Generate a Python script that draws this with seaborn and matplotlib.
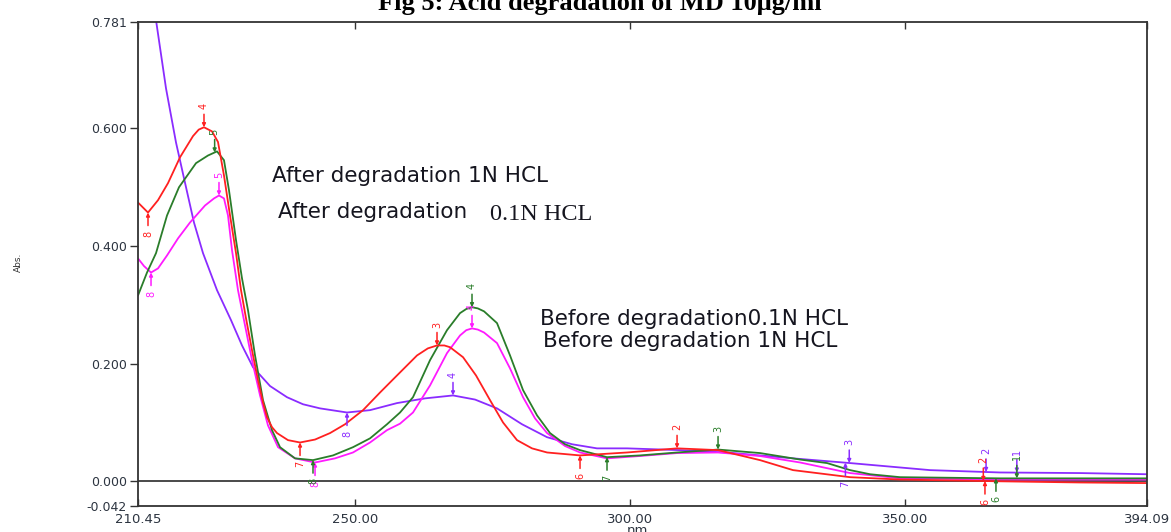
import numpy as np
import pandas as pd
import matplotlib
matplotlib.use("Agg")
import matplotlib.pyplot as plt
import seaborn as sns

# ---------------- data (wavelength nm, absorbance) ----------------
red_nm = [210.45, 212.27, 214.09, 215.91, 218.10, 220.46, 221.5, 222.46, 223.92, 225.01, 226.10,
          227.20, 228.29, 229.20, 230.11, 231.20, 232.29, 233.20, 233.93, 234.84, 235.75,
          237.75, 239.94, 242.67, 245.40, 248.13, 251.41, 254.50, 257.59, 261.23, 263.2, 264.87,
          266.2, 267.24, 269.61, 271.97, 274.52, 276.89, 279.43, 282.16, 284.90, 290.90, 299.46,
          308.56, 316.02, 323.66, 329.67, 340.05, 349.15, 367.35, 381.91, 394.09]
red_abs = [0.474, 0.457, 0.478, 0.507, 0.551, 0.587, 0.598, 0.602, 0.595, 0.577, 0.520,
           0.452, 0.388, 0.325, 0.277, 0.223, 0.172, 0.134, 0.109, 0.092, 0.082,
           0.070, 0.066, 0.071, 0.082, 0.097, 0.121, 0.151, 0.180, 0.214, 0.226, 0.231,
           0.231, 0.228, 0.211, 0.180, 0.138, 0.100, 0.070, 0.056, 0.049, 0.044, 0.049,
           0.056, 0.053, 0.036, 0.019, 0.007, 0.003, 0.000, -0.002, -0.003]

green_nm = [210.45, 212.09, 213.73, 215.73, 217.91, 221.01, 223.19, 224.83, 226.10, 227.01,
            228.29, 229.38, 230.47, 231.75, 233.20, 234.84, 236.30, 239.03, 242.30, 245.94,
            249.58, 252.68, 255.77, 258.14, 260.50, 263.60, 266.69, 269.06, 270.2, 271.24, 272.3,
            273.43, 275.79, 278.16, 280.53, 283.08, 285.44, 288.17, 290.90, 295.81, 301.82,
            308.56, 316.02, 323.66, 330.95, 335.86, 340.05, 343.69, 349.15, 367.35, 394.09]
green_abs = [0.316, 0.355, 0.388, 0.452, 0.500, 0.541, 0.554, 0.561, 0.546, 0.495,
             0.410, 0.345, 0.291, 0.214, 0.138, 0.087, 0.058, 0.039, 0.036, 0.044,
             0.058, 0.073, 0.097, 0.117, 0.143, 0.206, 0.257, 0.286, 0.293, 0.296, 0.294,
             0.289, 0.269, 0.214, 0.155, 0.112, 0.082, 0.063, 0.053, 0.041, 0.044,
             0.049, 0.054, 0.048, 0.037, 0.031, 0.019, 0.012, 0.007, 0.005, 0.005]

magenta_nm = [210.45, 211.54, 212.82, 214.09, 215.73, 217.73, 219.91, 222.65, 224.28, 225.19,
              226.10, 226.83, 227.56, 228.65, 229.93, 231.20, 232.66, 234.11, 235.94, 239.03,
              242.67, 246.31, 249.58, 252.68, 255.77, 258.14, 260.50, 263.60, 266.69, 269.06,
              270.2, 271.24, 272.3, 273.43, 275.79, 278.16, 280.53, 282.71, 284.90, 288.17,
              290.90, 295.81, 301.82, 308.56, 316.02, 323.66, 330.95, 340.05, 349.15, 367.35,
              394.09]
magenta_abs = [0.379, 0.366, 0.355, 0.362, 0.384, 0.413, 0.440, 0.469, 0.481, 0.486,
               0.481, 0.452, 0.393, 0.325, 0.265, 0.206, 0.146, 0.095, 0.058, 0.039,
               0.032, 0.039, 0.049, 0.066, 0.087, 0.098, 0.117, 0.163, 0.218, 0.248,
               0.257, 0.260, 0.258, 0.253, 0.235, 0.192, 0.143, 0.107, 0.082, 0.060,
               0.049, 0.039, 0.043, 0.048, 0.049, 0.043, 0.032, 0.014, 0.005, 0.003,
               0.003]

purple_nm = [210.45, 212.09, 213.73, 215.55, 217.37, 219.19, 220.64, 222.28, 224.83, 227.38,
             229.38, 231.38, 234.48, 237.57, 240.48, 243.58, 248.49, 252.68, 257.59, 262.69,
             267.78, 271.79, 275.79, 280.34, 284.90, 289.45, 293.99, 299.46, 309.10, 317.66,
             329.67, 340.05, 354.61, 367.35, 381.91, 394.09]
purple_abs = [1.014, 0.903, 0.784, 0.668, 0.576, 0.500, 0.440, 0.388, 0.325, 0.274,
              0.231, 0.194, 0.162, 0.143, 0.131, 0.124, 0.117, 0.121, 0.133, 0.141,
              0.146, 0.139, 0.124, 0.097, 0.075, 0.063, 0.056, 0.056, 0.053, 0.049,
              0.039, 0.031, 0.019, 0.015, 0.014, 0.012]

# peak / valley pick labels: wavelength, label, kind (p = peak, v = valley)
red_pick_nm = [212.27, 222.46, 239.94, 264.87, 290.90, 308.56, 364.3, 364.6]
red_pick_txt = ["8", "4", "7", "3", "6", "2", "2", "6"]
red_pick_kind = ["v", "p", "v", "p", "v", "p", "p", "v"]

green_pick_nm = [224.4, 242.30, 271.24, 295.81, 316.02, 366.6, 370.4]
green_pick_txt = ["5", "8", "4", "7", "3", "6", "1"]
green_pick_kind = ["p", "v", "p", "v", "p", "v", "p"]

magenta_pick_nm = [212.82, 225.19, 242.67, 271.24]
magenta_pick_txt = ["8", "5", "8", "4"]
magenta_pick_kind = ["v", "p", "v", "p"]

purple_pick_nm = [248.49, 267.78, 339.9, 339.2, 364.8, 370.4]
purple_pick_txt = ["8", "4", "3", "7", "2", "1"]
purple_pick_kind = ["v", "p", "p", "v", "p", "p"]

x_ticks = [210.45, 250.00, 300.00, 350.00, 394.09]
x_tick_labels = ["210.45", "250.00", "300.00", "350.00", "394.09"]
y_ticks = [-0.042, 0.000, 0.200, 0.400, 0.600, 0.781]
y_tick_labels = ["-0.042", "0.000", "0.200", "0.400", "0.600", "0.781"]

# ---------------- plotting ----------------
sns.set_theme(style="white")
plt.rcParams['font.family'] = ['DejaVu Sans']

colors = {"purple": "#8a2cff", "magenta": "#ff1aff", "green": "#2a7d2a", "red": "#ff2020"}

series = [("purple", purple_nm, purple_abs), ("magenta", magenta_nm, magenta_abs),
          ("green", green_nm, green_abs), ("red", red_nm, red_abs)]
df = pd.concat([pd.DataFrame({"nm": x, "abs": y, "series": n}) for n, x, y in series],
               ignore_index=True)

fig = plt.figure(figsize=(11.71, 5.32), dpi=100)
ax = fig.add_axes([138 / 1171, 26 / 532, 1009 / 1171, 484 / 532])

ax.axhline(0, color="#3a3a3a", lw=1.3, zorder=1)
sns.lineplot(data=df, x="nm", y="abs", hue="series", palette=colors,
             hue_order=["purple", "magenta", "green", "red"],
             estimator=None, sort=False, lw=1.3, legend=False, ax=ax, zorder=2)

picks = [("purple", purple_nm, purple_abs, purple_pick_nm, purple_pick_txt, purple_pick_kind),
         ("magenta", magenta_nm, magenta_abs, magenta_pick_nm, magenta_pick_txt, magenta_pick_kind),
         ("green", green_nm, green_abs, green_pick_nm, green_pick_txt, green_pick_kind),
         ("red", red_nm, red_abs, red_pick_nm, red_pick_txt, red_pick_kind)]
for name, xs, ys, pn, pt, pk in picks:
    c = colors[name]
    for x, t, k in zip(pn, pt, pk):
        y = float(np.interp(x, xs, ys))
        s = 1 if k == "p" else -1
        ax.annotate("", xy=(x, y), xytext=(0, s * 13), textcoords="offset pixels",
                    arrowprops=dict(arrowstyle="-|>", color=c, lw=1.1,
                                    mutation_scale=5, shrinkA=0, shrinkB=0), zorder=3)
        ax.annotate(t, xy=(x, y), xytext=(0, s * 21), textcoords="offset pixels",
                    rotation=90, ha="center", va="center", color=c, fontsize=7, zorder=3)

ax.set_xlim(210.45, 394.09)
ax.set_ylim(-0.042, 0.781)
ax.set_xticks(x_ticks)
ax.set_xticklabels(x_tick_labels)
ax.set_yticks(y_ticks)
ax.set_yticklabels(y_tick_labels)
ax.set_xlabel("")
ax.set_ylabel("")

for sp in ax.spines.values():
    sp.set_visible(True)
    sp.set_color("#333333")
    sp.set_linewidth(1.3)

ax.tick_params(axis="y", direction="out", length=6, width=1, pad=2, labelsize=9,
               colors="#333333", labelcolor="#2c3440", left=True, right=False)
ax.tick_params(axis="x", direction="in", length=5, width=1, pad=5, labelsize=9.5,
               colors="#333333", labelcolor="#2c3440", top=True, bottom=True)

# texts
txt_col = "#15151f"
fig.text(272 / 1171, 1 - 176 / 532, "After degradation 1N HCL", fontsize=15.5,
         ha="left", va="center", color=txt_col)
fig.text(278 / 1171, 1 - 212 / 532, "After degradation", fontsize=15.5,
         ha="left", va="center", color=txt_col)
fig.text(490 / 1171, 1 - 215 / 532, "0.1N HCL", fontsize=17.5, family="Liberation Serif",
         ha="left", va="center", color=txt_col)
fig.text(540 / 1171, 1 - 319 / 532, "Before degradation0.1N HCL", fontsize=15.5,
         ha="left", va="center", color=txt_col)
fig.text(543 / 1171, 1 - 341 / 532, "Before degradation 1N HCL", fontsize=15.5,
         ha="left", va="center", color=txt_col)

fig.text(600 / 1171, 1 - 10 / 532, "Fig 5: Acid degradation of MD 10μg/ml", fontsize=19,
         family="Liberation Serif", weight="bold", ha="center", va="baseline", color="black")
fig.text(18 / 1171, 1 - 262 / 532, "Abs.", rotation=90, fontsize=6.5,
         ha="center", va="center", color="#333333")
fig.text(640 / 1171, 1 - 524 / 532, "nm.", fontsize=9.5, ha="center", va="top",
         color="#2c3440")

fig.savefig("out.png", dpi=100)
